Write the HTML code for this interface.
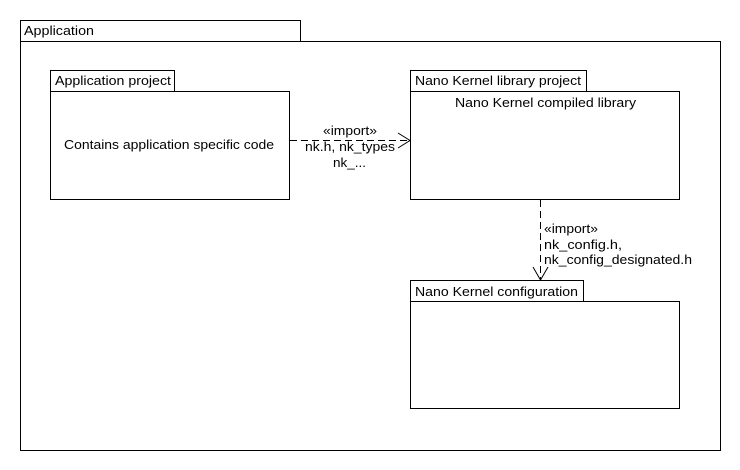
<!DOCTYPE html>
<html><head><style>html,body{margin:0;padding:0;background:#fff}svg{display:block}</style></head>
<body>
<svg width="740" height="470" xmlns="http://www.w3.org/2000/svg" font-family="Liberation Sans, Arial, sans-serif" font-size="13" fill="#000">
<g fill="none" stroke="#000" stroke-width="1" shape-rendering="crispEdges">
<rect x="20.5" y="20.5" width="280" height="21"/>
<rect x="20.5" y="41.5" width="700" height="409"/>
<rect x="50.5" y="70.5" width="124" height="21"/>
<rect x="50.5" y="91.5" width="239" height="108"/>
<rect x="410.5" y="70.5" width="176" height="21"/>
<rect x="410.5" y="91.5" width="269" height="108"/>
<rect x="410.5" y="280.5" width="173" height="21"/>
<rect x="410.5" y="301.5" width="269" height="107"/>
<line x1="290" y1="140.5" x2="409" y2="140.5" stroke-dasharray="7,4"/>
<line x1="540.5" y1="200" x2="540.5" y2="279" stroke-dasharray="7,4"/>
</g>
<g fill="none" stroke="#000" stroke-width="1">
<polyline points="398,133 410,140.5 398,148"/>
<polyline points="533,267 540.5,280 548,267"/>
</g>
<text x="24" y="35" textLength="70" lengthAdjust="spacingAndGlyphs">Application</text>
<text x="55" y="85" textLength="116" lengthAdjust="spacingAndGlyphs">Application project</text>
<text x="64" y="149" textLength="210" lengthAdjust="spacingAndGlyphs">Contains application specific code</text>
<text x="415" y="85" textLength="166" lengthAdjust="spacingAndGlyphs">Nano Kernel library project</text>
<text x="455" y="107" textLength="181" lengthAdjust="spacingAndGlyphs">Nano Kernel compiled library</text>
<text x="415" y="296" textLength="163" lengthAdjust="spacingAndGlyphs">Nano Kernel configuration</text>
<text x="323" y="135" textLength="54" lengthAdjust="spacingAndGlyphs">«import»</text>
<text x="305" y="151" textLength="90" lengthAdjust="spacingAndGlyphs">nk.h, nk_types</text>
<text x="333" y="167" textLength="33" lengthAdjust="spacingAndGlyphs">nk_...</text>
<text x="544" y="233" textLength="54" lengthAdjust="spacingAndGlyphs">«import»</text>
<text x="544" y="249" textLength="78" lengthAdjust="spacingAndGlyphs">nk_config.h,</text>
<text x="544" y="264" textLength="148" lengthAdjust="spacingAndGlyphs">nk_config_designated.h</text>
</svg>
</body></html>
